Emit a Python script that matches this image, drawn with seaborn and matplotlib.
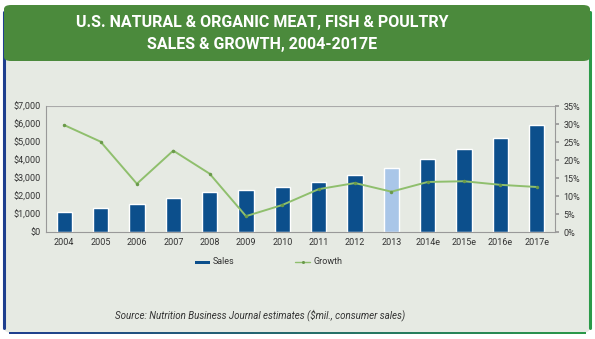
import numpy as np
import pandas as pd
import matplotlib
matplotlib.use("Agg")
import matplotlib.pyplot as plt
import seaborn as sns
from matplotlib.patches import FancyBboxPatch, Rectangle
from matplotlib.lines import Line2D
from matplotlib.ticker import FuncFormatter, MultipleLocator

years = ["2004", "2005", "2006", "2007", "2008", "2009", "2010", "2011",
         "2012", "2013", "2014e", "2015e", "2016e", "2017e"]
sales = [1100, 1350, 1540, 1900, 2240, 2350, 2500, 2800, 3190, 3550, 4050, 4620, 5200, 5920]
growth = [29.7, 25.1, 13.4, 22.6, 16.2, 4.4, 7.5, 11.9, 13.6, 11.2, 13.9, 14.1, 13.1, 12.5]
title_lines = ["U.S. NATURAL & ORGANIC MEAT, FISH & POULTRY", "SALES & GROWTH, 2004-2017E"]
source = "Source: Nutrition Business Journal estimates ($mil., consumer sales)"

sns.set_theme(style="white")
plt.rcParams["font.family"] = ["Roboto", "DejaVu Sans"]

DARK = "#0c4f8c"
LIGHT = "#a9c6e8"
GREEN = "#8fbf6d"
BG = "#e6eae3"
HEAD = "#4b8a3c"
TXT = "#333333"

fig = plt.figure(figsize=(5.95, 3.39), dpi=100)
fig.patch.set_facecolor("white")

W, H = 595.0, 339.0
def fx(x): return x / W
def fy(y): return 1 - y / H

# outer frame
frame = FancyBboxPatch((fx(4), fy(333)), fx(586), (333 - 6) / H,
                       boxstyle="round,pad=0,rounding_size=0.015",
                       transform=fig.transFigure, facecolor=BG,
                       edgecolor="none", zorder=-5)
fig.patches.append(frame)
fig.add_artist(Line2D([fx(4), fx(4)], [fy(328), fy(12)], transform=fig.transFigure,
                      color="#1f3f8f", lw=2.2, zorder=-4))
fig.add_artist(Line2D([fx(590), fx(590)], [fy(328), fy(12)], transform=fig.transFigure,
                      color="#2a9a48", lw=2.2, zorder=-4))
n = 40
xs = np.linspace(9, 585, n + 1)
cmap = matplotlib.colors.LinearSegmentedColormap.from_list("b", ["#1f3f8f", "#2a9a48"])
for i in range(n):
    fig.add_artist(Rectangle((fx(xs[i]), fy(334)), fx(xs[i + 1] - xs[i] + 0.8), 2.2 / H,
                             transform=fig.transFigure, facecolor=cmap(i / n),
                             edgecolor="none", zorder=-4))
# header
head = FancyBboxPatch((fx(4), fy(61)), fx(586), (61 - 5) / H,
                      boxstyle="round,pad=0,rounding_size=0.012",
                      transform=fig.transFigure, facecolor=HEAD,
                      edgecolor="none", zorder=-3)
fig.patches.append(head)
fig.text(fx(262), fy(22), title_lines[0], ha="center", va="center", color="white",
         fontsize=11.5, fontweight="bold", zorder=3)
fig.text(fx(262), fy(44), title_lines[1], ha="center", va="center", color="white",
         fontsize=11.5, fontweight="bold", zorder=3)

# axes
ax = fig.add_axes([fx(46), fy(232), fx(555) - fx(46), (232 - 106) / H])
ax.set_zorder(5)
ax.set_facecolor("none")
df = pd.DataFrame({"year": years, "sales": sales})
palette = {y: (LIGHT if y == "2013" else DARK) for y in years}
sns.barplot(data=df, x="year", y="sales", hue="year", palette=palette,
            legend=False, width=0.42, ax=ax, saturation=1, zorder=2)
ax.set_ylim(0, 7000)
ax.set_xlim(-0.5, len(years) - 0.5)
ax.yaxis.set_major_locator(MultipleLocator(1000))
ax.yaxis.set_major_formatter(FuncFormatter(lambda v, p: f"${v:,.0f}"))
ax.set_xlabel("")
ax.set_ylabel("")
ax.tick_params(axis="both", labelsize=6.5, colors=TXT, length=0, pad=4)
ax.set_xticks(np.arange(len(years)))
ax.set_xticklabels(years)
ax.set_xticks(np.arange(len(years) + 1) - 0.5, minor=True)
ax.tick_params(axis="x", which="minor", length=3, color="#999999", direction="out")
for s in ["top", "right"]:
    ax.spines[s].set_visible(False)
for s in ["left", "bottom"]:
    ax.spines[s].set_color("#999999")
    ax.spines[s].set_linewidth(0.8)
ax.axhline(7000, color="#aaaaaa", lw=0.8, zorder=1)

ax2 = ax.twinx()
ax2.set_zorder(6)
ax2.set_facecolor("none")
sns.lineplot(x=np.arange(len(years)), y=growth, ax=ax2, color=GREEN, lw=1.4,
             marker="o", markersize=2.5, markeredgewidth=0, markerfacecolor="#6a9a4a",
             zorder=3)
ax2.set_ylim(0, 35)
ax2.yaxis.set_major_locator(MultipleLocator(5))
ax2.yaxis.set_major_formatter(FuncFormatter(lambda v, p: f"{v:.0f}%"))
ax2.tick_params(axis="y", labelsize=6.5, colors=TXT, length=3, pad=3, direction="out")
ax2.tick_params(axis="y", color="#999999")
for s in ["top", "left", "bottom"]:
    ax2.spines[s].set_visible(False)
ax2.spines["right"].set_color("#999999")
ax2.spines["right"].set_linewidth(0.8)
ax2.set_ylabel("")

# legend
fig.add_artist(Rectangle((fx(195), fy(264)), fx(15), 3.5 / H, transform=fig.transFigure,
                         facecolor=DARK, edgecolor="none"))
fig.text(fx(213), fy(262), "Sales", fontsize=6.5, color=TXT, va="center")
fig.add_artist(Line2D([fx(295), fx(310)], [fy(262), fy(262)], transform=fig.transFigure,
                      color=GREEN, lw=1))
fig.add_artist(Line2D([fx(302.5)], [fy(262)], transform=fig.transFigure,
                      color=GREEN, lw=0, marker="o", markersize=2.2,
                      markerfacecolor="#6a9a4a", markeredgewidth=0))
fig.text(fx(313), fy(262), "Growth", fontsize=6.5, color=TXT, va="center")

fig.text(fx(260), fy(315), source, fontsize=7, style="italic", color=TXT,
         ha="center", va="center")

fig.savefig("out.png", dpi=100, facecolor="white")
